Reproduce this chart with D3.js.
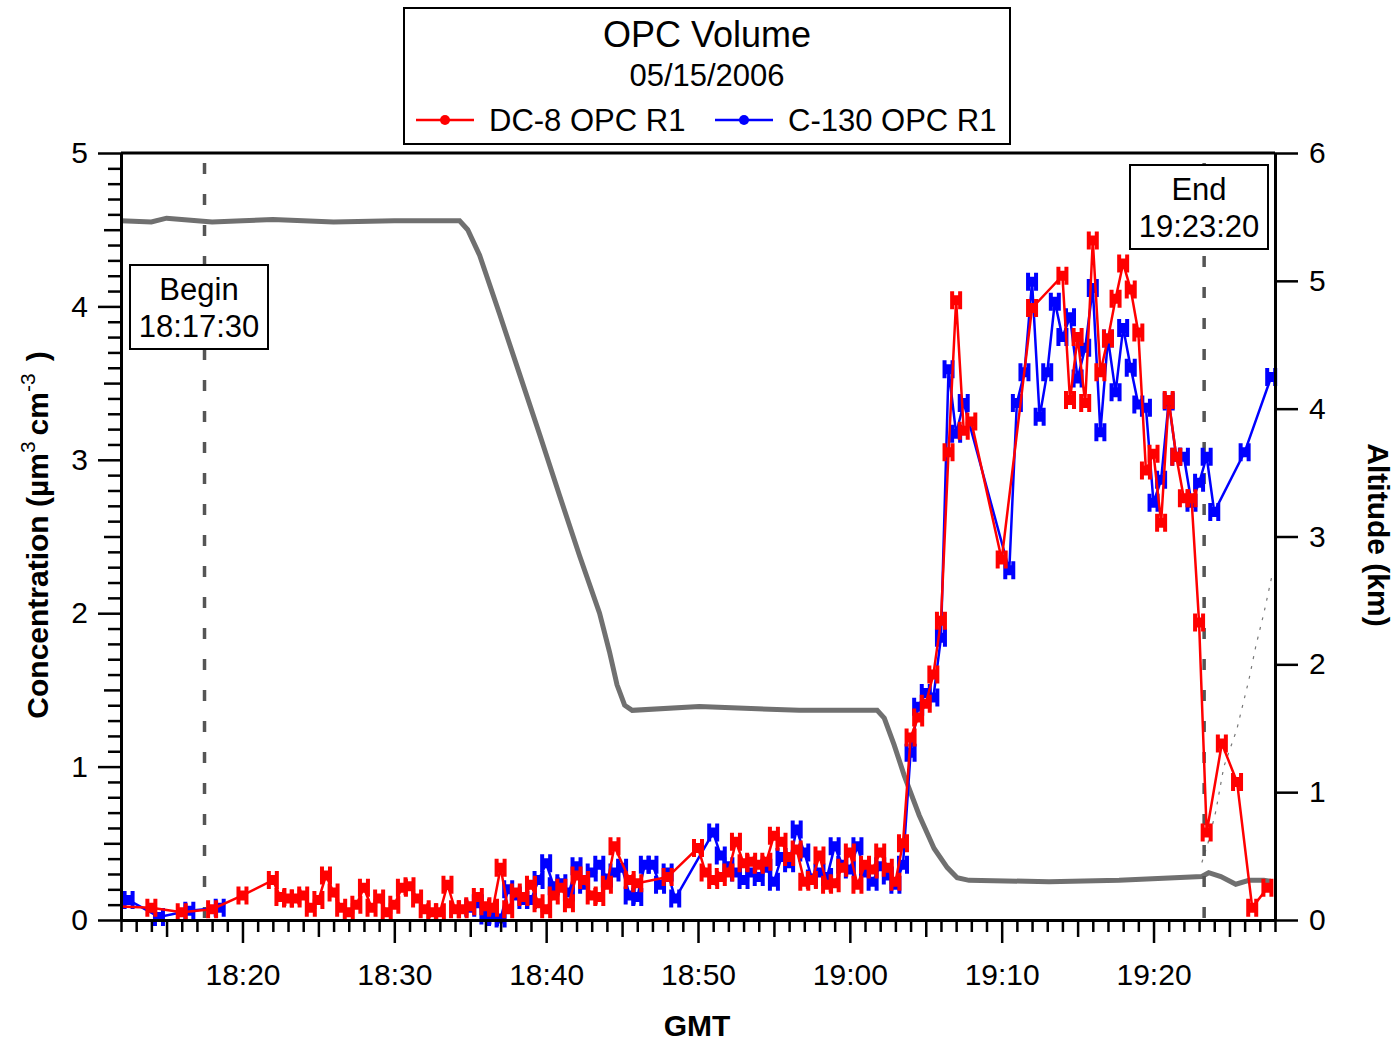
<!DOCTYPE html>
<html>
<head>
<meta charset="utf-8">
<script src="https://cdn.jsdelivr.net/npm/d3@7"></script>
<style>
  body { margin: 0; background: #fff; }
  svg text { font-family: "Liberation Sans", Arial, sans-serif; fill: #000; }
</style>
</head>
<body>
<div id="chart"></div>
<script>
// DC-8 OPC R1 volume, [GMT, um^3 cm^-3]
const dc8 = [
  ['18:11:30',0.09],['18:14:00',0.08],['18:16:00',0.05],['18:18:00',0.07],['18:20:00',0.16],['18:22:00',0.26],
  ['18:22:30',0.15],['18:23:00',0.14],['18:23:30',0.14],['18:24:00',0.16],['18:24:30',0.08],['18:25:00',0.13],
  ['18:25:30',0.29],['18:26:00',0.18],['18:26:30',0.08],['18:27:00',0.05],['18:27:30',0.10],['18:28:00',0.21],
  ['18:28:30',0.08],['18:29:00',0.14],['18:29:30',0.05],['18:30:00',0.10],['18:30:30',0.21],['18:31:00',0.22],
  ['18:31:30',0.14],['18:32:00',0.07],['18:32:30',0.05],['18:33:00',0.05],['18:33:30',0.23],['18:34:00',0.07],
  ['18:34:30',0.07],['18:35:00',0.09],['18:35:30',0.15],['18:36:00',0.09],['18:36:30',0.08],['18:37:00',0.34],
  ['18:37:30',0.07],['18:38:00',0.18],['18:38:30',0.15],['18:39:00',0.23],['18:39:30',0.11],['18:40:00',0.07],
  ['18:40:30',0.16],['18:41:00',0.21],['18:41:30',0.11],['18:42:00',0.29],['18:42:30',0.26],['18:43:00',0.16],
  ['18:43:30',0.15],['18:44:00',0.23],['18:44:30',0.48],['18:45:30',0.26],['18:46:00',0.24],['18:48:00',0.28],
  ['18:50:00',0.47],['18:50:30',0.31],['18:51:00',0.26],['18:51:30',0.28],['18:52:00',0.31],['18:52:30',0.51],
  ['18:53:00',0.37],['18:53:30',0.38],['18:54:00',0.36],['18:54:30',0.38],['18:55:00',0.55],['18:55:30',0.51],
  ['18:56:00',0.41],['18:56:30',0.46],['18:57:00',0.25],['18:57:30',0.26],['18:58:00',0.42],['18:58:30',0.23],
  ['18:59:00',0.24],['18:59:30',0.34],['19:00:00',0.44],['19:00:30',0.23],['19:01:00',0.36],['19:01:30',0.33],
  ['19:02:00',0.44],['19:02:30',0.34],['19:03:00',0.25],['19:03:30',0.50],['19:04:00',1.19],['19:04:30',1.32],
  ['19:05:00',1.41],['19:05:30',1.60],['19:06:00',1.95],['19:06:30',3.05],['19:07:00',4.04],['19:07:30',3.19],
  ['19:08:00',3.25],['19:10:00',2.35],['19:12:00',3.99],['19:14:00',4.20],['19:14:30',3.39],['19:15:00',3.80],
  ['19:15:30',3.37],['19:16:00',4.43],['19:16:30',3.57],['19:17:00',3.79],['19:17:30',4.05],['19:18:00',4.28],
  ['19:18:30',4.11],['19:19:00',3.83],['19:19:30',2.93],['19:20:00',3.04],['19:20:30',2.59],['19:21:00',3.39],
  ['19:21:30',3.02],['19:22:00',2.75],['19:22:30',2.75],['19:23:00',1.94],['19:23:30',0.57],['19:24:30',1.15],
  ['19:25:30',0.90],['19:26:30',0.08],['19:27:30',0.21]
];

// C-130 OPC R1 volume
const c130 = [
  ['18:12:30',0.13],['18:14:30',0.02],['18:16:30',0.06],['18:18:30',0.08],
  ['18:35:00',0.08],['18:35:30',0.11],['18:36:00',0.03],['18:36:30',0.02],['18:37:00',0.01],['18:37:30',0.20],
  ['18:38:00',0.16],['18:38:30',0.13],['18:39:00',0.13],['18:39:30',0.26],['18:40:00',0.37],['18:40:30',0.22],
  ['18:41:00',0.24],['18:41:30',0.18],['18:42:00',0.35],['18:42:30',0.23],['18:43:00',0.31],['18:43:30',0.36],
  ['18:44:00',0.27],['18:44:30',0.31],['18:45:00',0.34],['18:45:30',0.16],['18:46:00',0.15],['18:46:30',0.36],
  ['18:47:00',0.36],['18:47:30',0.23],['18:48:00',0.31],['18:48:30',0.14],['18:51:00',0.57],['18:51:30',0.42],
  ['18:52:00',0.35],['18:52:30',0.31],['18:53:00',0.26],['18:53:30',0.31],['18:54:00',0.28],['18:54:30',0.34],
  ['18:55:00',0.25],['18:55:30',0.41],['18:56:00',0.37],['18:56:30',0.59],['18:57:00',0.44],['18:57:30',0.27],
  ['18:58:00',0.31],['18:58:30',0.28],['18:59:00',0.48],['18:59:30',0.36],['19:00:00',0.33],['19:00:30',0.48],
  ['19:01:00',0.31],['19:01:30',0.25],['19:02:00',0.35],['19:02:30',0.29],['19:03:00',0.23],['19:03:30',0.36],
  ['19:04:00',1.09],['19:04:30',1.39],['19:05:00',1.48],['19:05:30',1.45],['19:06:00',1.84],['19:06:30',3.59],
  ['19:07:00',3.17],['19:07:30',3.37],['19:10:30',2.28],['19:11:00',3.37],['19:11:30',3.57],['19:12:00',4.16],
  ['19:12:30',3.28],['19:13:00',3.57],['19:13:30',4.03],['19:14:00',3.80],['19:14:30',3.93],['19:15:00',3.53],
  ['19:15:30',3.73],['19:16:00',4.12],['19:16:30',3.18],['19:17:00',3.79],['19:17:30',3.44],['19:18:00',3.86],
  ['19:18:30',3.60],['19:19:00',3.36],['19:19:30',3.34],['19:20:00',2.72],['19:20:30',2.87],['19:21:00',3.38],
  ['19:21:30',3.02],['19:22:00',3.02],['19:22:30',2.72],['19:23:00',2.85],['19:23:30',3.02],['19:24:00',2.66],
  ['19:26:00',3.05],['19:27:45',3.54]
];

// DC-8 altitude (km)
const dc8Alt = [
  ['18:12:00',5.47],['18:14:00',5.46],['18:15:00',5.49],['18:16:00',5.48],['18:18:00',5.46],['18:20:00',5.47],
  ['18:22:00',5.48],['18:26:00',5.46],['18:30:00',5.47],['18:34:18',5.47],
  ['18:34:50',5.40],['18:35:37',5.20],['18:36:56',4.74],['18:38:15',4.27],['18:39:34',3.80],['18:40:53',3.32],
  ['18:42:12',2.85],['18:43:31',2.40],['18:44:10',2.10],['18:44:40',1.84],['18:45:10',1.68],['18:45:40',1.64],
  ['18:50:05',1.67],['18:56:40',1.64],['19:01:48',1.64],['19:02:16',1.58],['19:02:55',1.37],['19:03:35',1.13],
  ['19:04:34',0.82],['19:05:33',0.56],['19:06:25',0.41],['19:07:04',0.33],['19:07:51',0.31],['19:13:07',0.30],
  ['19:17:44',0.31],['19:23:11',0.34],['19:23:38',0.37],['19:24:26',0.34],['19:25:25',0.28],['19:26:17',0.31],
  ['19:27:16',0.31],['19:27:48',0.30]
];

// faint climb at the end (km)
const climbAlt = [
  ['19:23:11',0.45],['19:23:35',0.60],['19:24:06',0.85],['19:24:38',1.20],['19:25:29',1.49],
  ['19:26:17',1.88],['19:26:44',2.14],['19:27:16',2.40],['19:27:51',2.72]
];

const concTicks = [0, 1, 2, 3, 4, 5];
const altTicks = [0, 1, 2, 3, 4, 5, 6];
const timeDomain = ['18:12:00', '19:28:00'];
const beginTime = '18:17:30';
const endTime = '19:23:20';
const seriesNames = ['DC-8 OPC R1', 'C-130 OPC R1'];

const parseT = d3.timeParse('%H:%M:%S');
const color = { dc8: '#ff0000', c130: '#0000ff', alt: '#707070' };
const gapMinutes = 10; // no line drawn across longer data gaps

const width = 1154;
const height = 767;
const margin = { top: 153, left: 121 };

const svg = d3.select('#chart')
  .append('svg')
  .attr('width', 1399)
  .attr('height', 1042);

const g = svg.append('g')
  .attr('transform', `translate(${margin.left}, ${margin.top})`);

// scales
const xScale = d3.scaleTime()
  .domain(timeDomain.map(parseT))
  .range([0, width]);
const yScale = d3.scaleLinear().domain([0, 5]).range([height, 0]);
const y2Scale = d3.scaleLinear().domain([0, 6]).range([height, 0]);

g.append('clipPath').attr('id', 'clip')
  .append('rect').attr('x', 0).attr('y', -10).attr('width', width + 8).attr('height', height + 20);

// altitude
const altLine = d3.line().x(d => xScale(parseT(d[0]))).y(d => y2Scale(d[1]));
g.append('path')
  .datum(climbAlt)
  .attr('d', altLine)
  .attr('fill', 'none')
  .attr('stroke', '#777')
  .attr('stroke-width', 1.2)
  .attr('stroke-dasharray', '3,7');
g.append('path')
  .datum(dc8Alt)
  .attr('d', altLine)
  .attr('fill', 'none')
  .attr('stroke', color.alt)
  .attr('stroke-width', 5);

// begin / end markers
[beginTime, endTime].forEach(t => {
  g.append('line')
    .attr('x1', xScale(parseT(t))).attr('x2', xScale(parseT(t)))
    .attr('y1', 10).attr('y2', height)
    .attr('stroke', '#555')
    .attr('stroke-width', 3.5)
    .attr('stroke-dasharray', '11,20');
});

// split a series where the time gap is too long
function segments(data) {
  const out = [[data[0]]];
  for (let i = 1; i < data.length; i++) {
    const dt = (parseT(data[i][0]) - parseT(data[i - 1][0])) / 60000;
    if (dt > gapMinutes) out.push([]);
    out[out.length - 1].push(data[i]);
  }
  return out;
}

// series
const hMark = 'M-6,-9h4v4h4v-4h4v18h-4v-4h-4v4h-4z';
function drawSeries(data, col) {
  const sg = g.append('g').attr('clip-path', 'url(#clip)');
  const line = d3.line().x(d => xScale(parseT(d[0]))).y(d => yScale(d[1]));
  sg.selectAll('.seg')
    .data(segments(data))
    .enter()
    .append('path')
    .attr('class', 'seg')
    .attr('d', line)
    .attr('fill', 'none')
    .attr('stroke', col)
    .attr('stroke-width', 2.5);
  sg.selectAll('.mark')
    .data(data)
    .enter()
    .append('path')
    .attr('class', 'mark')
    .attr('d', hMark)
    .attr('transform', d => `translate(${xScale(parseT(d[0]))}, ${yScale(d[1])})`)
    .attr('fill', col);
}
drawSeries(c130, color.c130);
drawSeries(dc8, color.dc8);

// x axis
const xAxis = d3.axisBottom(xScale)
  .ticks(d3.timeMinute.every(1))
  .tickSize(23).tickSizeOuter(0).tickPadding(21)
  .tickFormat(d => d.getMinutes() % 10 === 0 ? d3.timeFormat('%H:%M')(d) : '');
const xg = g.append('g')
  .attr('transform', `translate(0, ${height})`)
  .call(xAxis);
xg.selectAll('.tick line')
  .attr('y2', d => d.getMinutes() % 10 === 0 ? 23 : d.getMinutes() % 5 === 0 ? 17 : 12);

// left y axis
const yAxis = d3.axisLeft(yScale)
  .tickValues(d3.range(0, 51).map(i => i / 10))
  .tickSize(23).tickSizeOuter(0).tickPadding(10)
  .tickFormat(d => concTicks.includes(d) ? d : '');
const yg = g.append('g').call(yAxis);
yg.selectAll('.tick line')
  .attr('x2', d => concTicks.includes(d) ? -23 : (Math.round(d * 10) % 5 === 0 ? -17 : -13));

// right y axis
const y2Axis = d3.axisRight(y2Scale)
  .tickValues(altTicks)
  .tickFormat(d3.format('d'))
  .tickSize(23).tickSizeOuter(0).tickPadding(11);
const y2g = g.append('g')
  .attr('transform', `translate(${width}, 0)`)
  .call(y2Axis);

[xg, yg, y2g].forEach(a => {
  a.attr('font-family', null).attr('font-size', 30);
  a.select('.domain').attr('stroke-width', 3);
  a.selectAll('.tick line').attr('stroke-width', 2.5);
  a.selectAll('.tick text').attr('fill', '#000');
});

// top frame
g.append('line')
  .attr('x1', 0).attr('x2', width)
  .attr('y1', 0).attr('y2', 0)
  .attr('stroke', '#000').attr('stroke-width', 3);

// axis titles
svg.append('text')
  .attr('x', 697).attr('y', 1036)
  .attr('text-anchor', 'middle')
  .attr('font-size', 30).attr('font-weight', 'bold')
  .text('GMT');

const yLabel = svg.append('text')
  .attr('transform', 'translate(48, 535) rotate(-90)')
  .attr('text-anchor', 'middle')
  .attr('font-size', 30).attr('font-weight', 'bold');
yLabel.append('tspan').text('Concentration  (µm');
yLabel.append('tspan').attr('dy', -13).attr('font-size', 21).attr('font-weight', 'normal').text('3');
yLabel.append('tspan').attr('dy', 13).text('\u2009cm');
yLabel.append('tspan').attr('dy', -13).attr('font-size', 21).attr('font-weight', 'normal').text('-3');
yLabel.append('tspan').attr('dy', 13).text('\u2009\u2009)');

svg.append('text')
  .attr('transform', 'translate(1368, 535) rotate(90)')
  .attr('text-anchor', 'middle')
  .attr('font-size', 30).attr('font-weight', 'bold')
  .text('Altitude  (km)');

// begin / end boxes
function noteBox(x, y, lines) {
  const b = svg.append('g');
  b.append('rect')
    .attr('x', x).attr('y', y).attr('width', 138).attr('height', 84)
    .attr('fill', '#fff').attr('stroke', '#000').attr('stroke-width', 2);
  lines.forEach((t, i) => {
    b.append('text')
      .attr('x', x + 69).attr('y', y + 35 + i * 37)
      .attr('text-anchor', 'middle')
      .attr('font-size', 31)
      .text(t);
  });
}
noteBox(130, 265, ['Begin', beginTime]);
noteBox(1130, 165, ['End', endTime]);

// title / legend box
const legend = svg.append('g').attr('id', 'legend');
legend.append('rect')
  .attr('x', 404).attr('y', 8).attr('width', 606).attr('height', 136)
  .attr('fill', '#fff').attr('stroke', '#000').attr('stroke-width', 2);
legend.append('text')
  .attr('x', 707).attr('y', 47).attr('text-anchor', 'middle')
  .attr('font-size', 36).text('OPC Volume');
legend.append('text')
  .attr('x', 707).attr('y', 86).attr('text-anchor', 'middle')
  .attr('font-size', 31).text('05/15/2006');
[[416, color.dc8, seriesNames[0]], [715, color.c130, seriesNames[1]]].forEach(([x0, c, name]) => {
  legend.append('line')
    .attr('x1', x0).attr('x2', x0 + 58)
    .attr('y1', 120).attr('y2', 120)
    .attr('stroke', c).attr('stroke-width', 2.5);
  legend.append('circle')
    .attr('cx', x0 + 29).attr('cy', 120).attr('r', 5)
    .attr('fill', c);
  legend.append('text')
    .attr('x', x0 + 73).attr('y', 131)
    .attr('font-size', 31).text(name);
});
</script>
</body>
</html>
